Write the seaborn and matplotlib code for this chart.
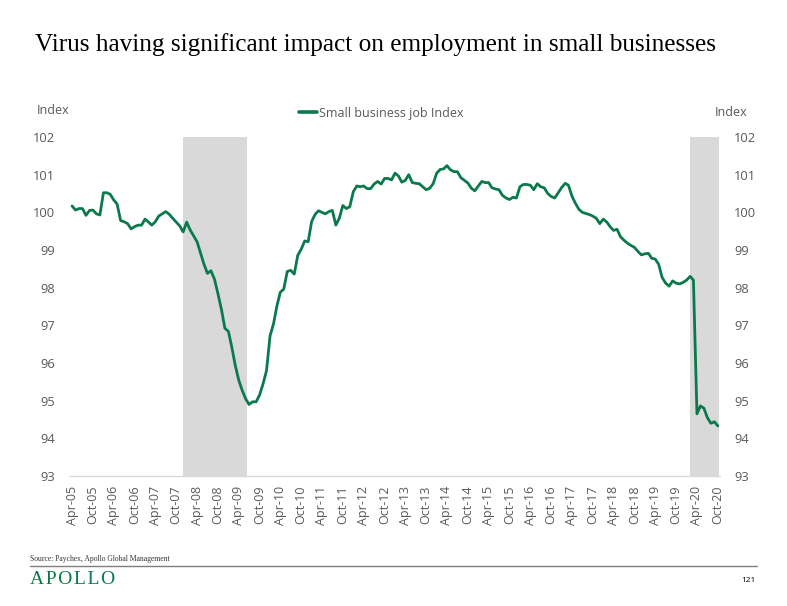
import pandas as pd
import numpy as np
import matplotlib
matplotlib.use("Agg")
import matplotlib.pyplot as plt
import matplotlib.dates as mdates
import seaborn as sns

# monthly small business job index, Apr-05 .. Oct-20
start_month = "2005-04-01"
job_index = [
    100.17, 100.06, 100.10, 100.10, 99.92, 100.05, 100.06, 99.96, 99.93, 100.52, 100.52, 100.48,   # Apr-05..Mar-06
    100.33, 100.22, 99.78, 99.75, 99.70, 99.56, 99.62, 99.66, 99.66, 99.82, 99.74, 99.66,        # Apr-06..Mar-07
    99.75, 99.90, 99.96, 100.02, 99.95, 99.84, 99.74, 99.64, 99.48, 99.74, 99.53, 99.38,         # Apr-07..Mar-08
    99.22, 98.92, 98.62, 98.38, 98.45, 98.22, 97.84, 97.42, 96.92, 96.84, 96.40, 95.95,          # Apr-08..Mar-09
    95.55, 95.28, 95.05, 94.90, 94.97, 94.97, 95.15, 95.45, 95.80, 96.72, 97.05, 97.50,          # Apr-09..Mar-10
    97.88, 97.96, 98.43, 98.46, 98.36, 98.86, 99.02, 99.24, 99.22, 99.76, 99.95, 100.04,         # Apr-10..Mar-11
    100.00, 99.96, 100.02, 100.05, 99.66, 99.85, 100.18, 100.10, 100.15, 100.55, 100.70, 100.68, # Apr-11..Mar-12
    100.70, 100.63, 100.63, 100.75, 100.82, 100.75, 100.90, 100.90, 100.86, 101.04, 100.96, 100.80, # Apr-12..Mar-13
    100.85, 101.00, 100.79, 100.77, 100.76, 100.68, 100.60, 100.64, 100.76, 101.04, 101.14, 101.15, # Apr-13..Mar-14
    101.24, 101.13, 101.08, 101.08, 100.92, 100.85, 100.78, 100.64, 100.57, 100.70, 100.82, 100.79, # Apr-14..Mar-15
    100.79, 100.65, 100.62, 100.60, 100.45, 100.38, 100.34, 100.40, 100.38, 100.68, 100.74, 100.74, # Apr-15..Mar-16
    100.72, 100.60, 100.76, 100.68, 100.65, 100.50, 100.42, 100.38, 100.52, 100.66, 100.77, 100.72, # Apr-16..Mar-17
    100.43, 100.24, 100.08, 100.00, 99.97, 99.94, 99.90, 99.84, 99.70, 99.82, 99.74, 99.62,      # Apr-17..Mar-18
    99.52, 99.55, 99.35, 99.26, 99.18, 99.12, 99.07, 98.96, 98.87, 98.90, 98.91, 98.78,          # Apr-18..Mar-19
    98.76, 98.62, 98.27, 98.12, 98.04, 98.18, 98.12, 98.10, 98.14, 98.20, 98.30, 98.20,          # Apr-19..Mar-20
    94.65, 94.86, 94.80, 94.55, 94.40, 94.44, 94.33,                                             # Apr-20..Oct-20
]
recessions = [("2007-12-01", "2009-06-15"), ("2020-02-01", "2020-10-10")]
y_ticks = [93, 94, 95, 96, 97, 98, 99, 100, 101, 102]

green = "#0A7A4C"
grey_txt = "#595959"

df = pd.DataFrame({
    "date": pd.date_range(start_month, periods=len(job_index), freq="MS"),
    "index": job_index,
})

sns.set_style("white")
plt.rcParams["font.family"] = ["Open Sans", "DejaVu Sans"]

fig = plt.figure(figsize=(7.87, 6.06), dpi=100)
ax = fig.add_axes([70 / 787, 1 - 476 / 606, 650 / 787, 339 / 606])

for a, b in recessions:
    ax.axvspan(pd.Timestamp(a), pd.Timestamp(b), color="#D9D9D9", lw=0, zorder=0)

sns.lineplot(data=df, x="date", y="index", color=green, lw=2.0, ax=ax,
             label="Small business job Index")

ax.set_xlim(pd.Timestamp("2005-03-14"), pd.Timestamp("2020-10-20"))
ax.set_ylim(93, 102)
ax.set_yticks(y_ticks)
ax.set_yticklabels([str(t) for t in y_ticks], color=grey_txt, fontsize=9.3)
ax.xaxis.set_major_locator(mdates.MonthLocator(bymonth=[4, 10]))
ax.xaxis.set_major_formatter(mdates.DateFormatter("%b-%y"))
ax.tick_params(axis="x", rotation=90, length=0, pad=7, labelsize=9, labelcolor=grey_txt)
ax.tick_params(axis="y", length=0, pad=11)
ax.set_xlabel("")
ax.set_ylabel("")
for s in ["left", "right", "top"]:
    ax.spines[s].set_visible(False)
ax.spines["bottom"].set_color("#D9D9D9")
ax.spines["bottom"].set_linewidth(1.0)

ax2 = ax.twinx()
ax2.set_ylim(93, 102)
ax2.set_yticks(y_ticks)
ax2.set_yticklabels([str(t) for t in y_ticks], color=grey_txt, fontsize=9.3)
ax2.tick_params(axis="y", length=0, pad=10)
for s in ax2.spines.values():
    s.set_visible(False)

leg = ax.legend(loc="center", bbox_to_anchor=(381 / 787, 1 - 113 / 606), bbox_transform=fig.transFigure,
                frameon=False, fontsize=9, handlelength=1.45, handletextpad=0.15, labelcolor=grey_txt)
for h in leg.get_lines():
    h.set_linewidth(2.6)

fig.text(37 / 787, 1 - 110 / 606, "Index", color=grey_txt, fontsize=9, ha="left", va="center")
fig.text(747 / 787, 1 - 113 / 606, "Index", color=grey_txt, fontsize=9, ha="right", va="center")

fig.text(35 / 787, 1 - 45 / 606, "Virus having significant impact on employment in small businesses",
         family="Liberation Serif", fontsize=18.2, color="black", ha="left", va="center")

# footer
fig.text(30 / 787, 1 - 559 / 606, "Source: Paychex, Apollo Global Management",
         family="Liberation Serif", fontsize=5.5, color="#333333", ha="left", va="center")
fig.add_artist(plt.Line2D([30 / 787, 757 / 787], [1 - 566 / 606, 1 - 566 / 606],
                          transform=fig.transFigure, color="#7F7F7F", lw=1.0))
fig.text(30 / 787, 1 - 580 / 606, "A\u200aP\u200aO\u200aL\u200aL\u200aO",
         family=["Liberation Serif", "DejaVu Serif"], fontsize=14,
         color=green, ha="left", va="center")
fig.text(756 / 787, 1 - 580 / 606, "121", fontsize=6, color="black", ha="right", va="center")

fig.savefig("out.png", dpi=100)
